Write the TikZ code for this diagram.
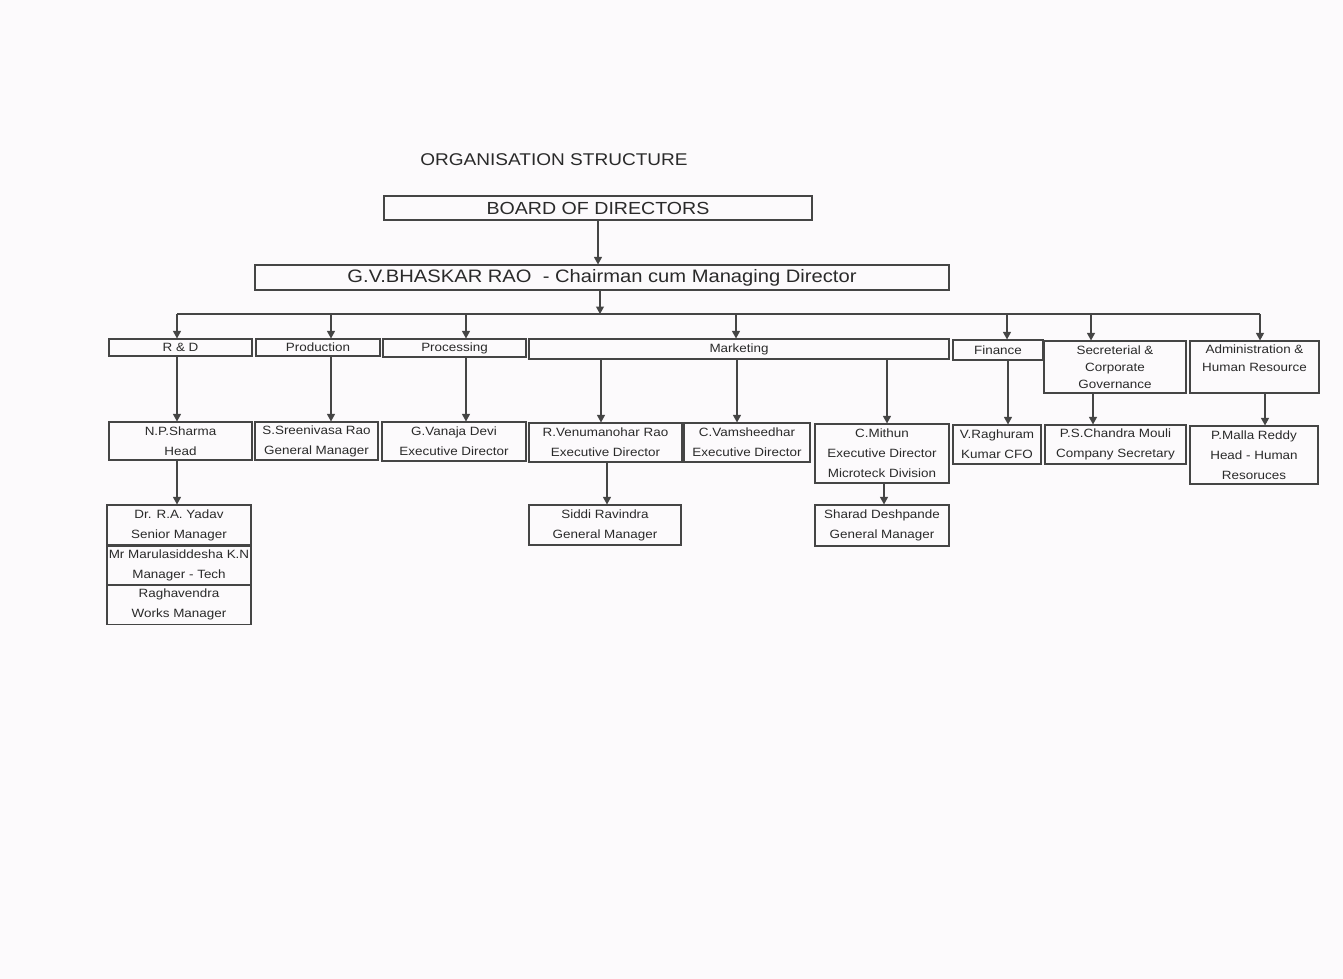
\documentclass[tikz,border=0pt]{standalone}
\usepackage{fontspec}
\setmainfont{Liberation Sans}[FakeStretch=1.12]
\usetikzlibrary{arrows.meta}
\definecolor{ink}{HTML}{2A2A2A}
\definecolor{linec}{HTML}{454545}
\definecolor{paper}{HTML}{FCFAFC}
\begin{document}
\begin{tikzpicture}[x=1pt,y=-1pt,
  box/.style={draw=linec, line width=1.1pt, inner sep=0pt, align=center, text=ink,
    font=\fontsize{12}{20}\selectfont},
  big/.style={box, font=\fontsize{17.5}{20}\selectfont},
  arr/.style={draw=linec, line width=1.1pt, -{Triangle[length=7.5pt,width=8pt]}},
  ln/.style={draw=linec, line width=1.1pt}]
\fill[paper] (0,0) rectangle (1343,979);
\useasboundingbox (0,0) rectangle (1343,979);

\node[text=ink, font=\fontsize{17}{20}\selectfont] (title) at (554,160) {ORGANISATION STRUCTURE};
\node[big, minimum width=428pt, minimum height=24pt] (board) at (598,208) {BOARD OF DIRECTORS};
\node[big, font=\fontsize{18}{20}\selectfont, minimum width=694pt, minimum height=25pt] (chair) at (602,277.5) {G.V.BHASKAR RAO\ \ - Chairman cum Managing Director};

% departments
\node[box, minimum width=143pt, minimum height=17pt] (rd) at (180.5,347.5) {R \& D};
\node[box, minimum width=124pt, minimum height=17pt] (prod) at (318,347.5) {Production};
\node[box, minimum width=143pt, minimum height=18pt] (proc) at (454.5,348) {Processing};
\node[box, minimum width=420pt, minimum height=20pt] (mkt) at (739,349) {Marketing};
\node[box, minimum width=90pt, minimum height=20pt] (fin) at (998,350) {Finance};
\node[box, font=\fontsize{12}{17}\selectfont, minimum width=142pt, minimum height=52pt] (sec) at (1115,367) {Secreterial \&\\Corporate\\Governance};
\node[box, font=\fontsize{12}{18}\selectfont, minimum width=129pt, minimum height=52pt] (adm) at (1254.5,367) {Administration \&\\Human Resource\\~};

% second row
\node[box, minimum width=143pt, minimum height=38pt] (np) at (180.5,441) {N.P.Sharma\\Head};
\node[box, minimum width=123pt, minimum height=38pt] (sr) at (316.5,441) {S.Sreenivasa Rao\\General Manager};
\node[box, minimum width=144pt, minimum height=39pt] (vd) at (454,441.5) {G.Vanaja Devi\\Executive Director};
\node[box, minimum width=153pt, minimum height=39pt] (rv) at (605.5,442.5) {R.Venumanohar Rao\\Executive Director};
\node[box, minimum width=126pt, minimum height=39pt] (cv) at (747,442.5) {C.Vamsheedhar\\Executive Director};
\node[box, minimum width=134pt, minimum height=59pt] (cm) at (882,453.5) {C.Mithun\\Executive Director\\Microteck Division};
\node[box, minimum width=88pt, minimum height=39pt] (vr) at (997,444.5) {V.Raghuram\\Kumar CFO};
\node[box, minimum width=141pt, minimum height=39pt] (pc) at (1115.5,444.5) {P.S.Chandra Mouli\\Company Secretary};
\node[box, minimum width=128pt, minimum height=58pt] (pm) at (1254,455) {P.Malla Reddy\\Head - Human\\Resoruces};

% third row
\node[box, minimum width=144pt, minimum height=40pt] (ra) at (179,525) {Dr. R.A. Yadav\\Senior Manager};
\node[box, minimum width=144pt, minimum height=38pt, anchor=north] (mk) at (ra.south) {Mr Marulasiddesha K.N\\Manager - Tech};
\node[box, minimum width=144pt, minimum height=39pt, anchor=north] (rg) at (mk.south) {Raghavendra\\Works Manager};
\node[box, minimum width=152pt, minimum height=40pt] (sd) at (605,525) {Siddi Ravindra\\General Manager};
\node[box, minimum width=134pt, minimum height=41pt] (sh) at (882,525.5) {Sharad Deshpande\\General Manager};

% junction coordinates
\coordinate (bus) at (600,314);
\coordinate (jrd) at (177,314);
\coordinate (jprod) at (331,314);
\coordinate (jproc) at (466,314);
\coordinate (jmkt) at (736,314);
\coordinate (jfin) at (1007,314);
\coordinate (jsec) at (1091,314);
\coordinate (jadm) at (1260,314);
\coordinate (xrd) at (177,0);
\coordinate (xprod) at (331,0);
\coordinate (xproc) at (466,0);
\coordinate (xm1) at (601,0);
\coordinate (xm2) at (737,0);
\coordinate (xm3) at (887,0);
\coordinate (xfin) at (1008,0);
\coordinate (xsec) at (1093,0);
\coordinate (xadm) at (1265,0);
\coordinate (xrv) at (607,0);
\coordinate (xcm) at (884,0);

% connectors
\draw[arr] (board.south) -- (board.south |- chair.north);
\draw[arr] (chair.south -| bus) -- (bus);
\draw[ln] (jrd) -- (jadm);
\draw[arr] (jrd) -- (jrd |- rd.north);
\draw[arr] (jprod) -- (jprod |- prod.north);
\draw[arr] (jproc) -- (jproc |- proc.north);
\draw[arr] (jmkt) -- (jmkt |- mkt.north);
\draw[arr] (jfin) -- (jfin |- fin.north);
\draw[arr] (jsec) -- (jsec |- sec.north);
\draw[arr] (jadm) -- (jadm |- adm.north);

\draw[arr] (rd.south -| xrd) -- (np.north -| xrd);
\draw[arr] (prod.south -| xprod) -- (sr.north -| xprod);
\draw[arr] (proc.south -| xproc) -- (vd.north -| xproc);
\draw[arr] (mkt.south -| xm1) -- (rv.north -| xm1);
\draw[arr] (mkt.south -| xm2) -- (cv.north -| xm2);
\draw[arr] (mkt.south -| xm3) -- (cm.north -| xm3);
\draw[arr] (fin.south -| xfin) -- (vr.north -| xfin);
\draw[arr] (sec.south -| xsec) -- (pc.north -| xsec);
\draw[arr] (adm.south -| xadm) -- (pm.north -| xadm);

\draw[arr] (np.south -| xrd) -- (ra.north -| xrd);
\draw[arr] (rv.south -| xrv) -- (sd.north -| xrv);
\draw[arr] (cm.south -| xcm) -- (sh.north -| xcm);
\end{tikzpicture}
\end{document}
